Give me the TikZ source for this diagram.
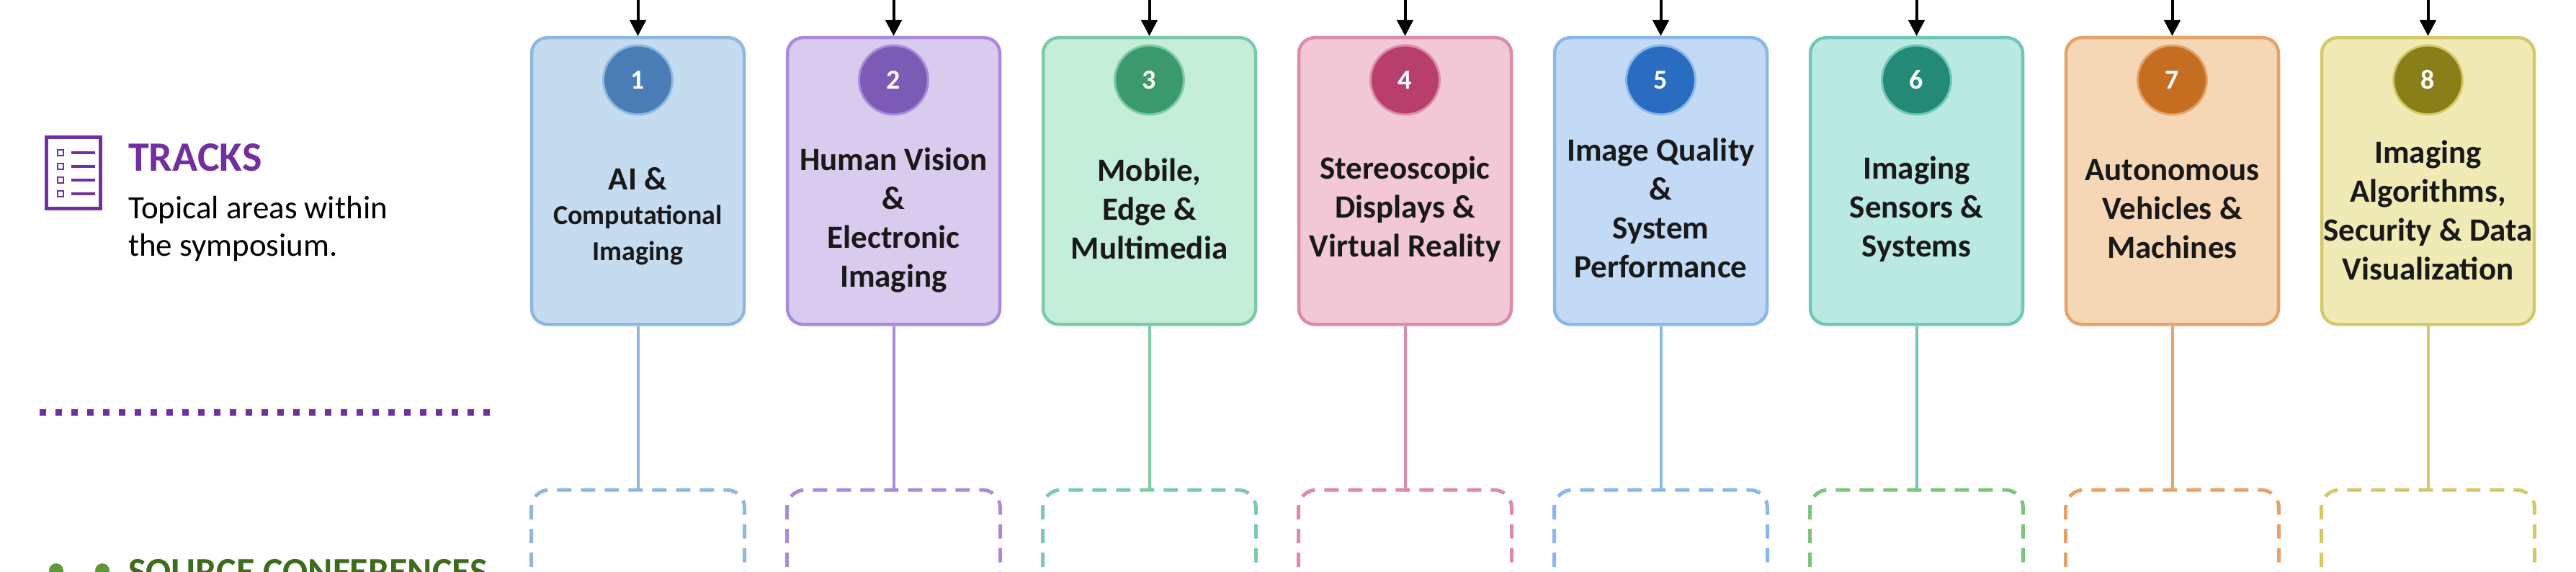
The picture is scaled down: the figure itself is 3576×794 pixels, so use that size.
\documentclass[tikz,border=0pt]{standalone}
\usepackage{fontspec}
\setmainfont{Carlito}
\usetikzlibrary{arrows.meta}
\definecolor{trk}{HTML}{7030A0}
\definecolor{srcg}{HTML}{3E6B1E}
\definecolor{srcd}{HTML}{5E9A3A}
\begin{document}
\begin{tikzpicture}[x=1pt,y=-1pt,
  tbox/.style={draw, line width=4.5pt, rounded corners=22pt, minimum width=295pt, minimum height=398pt, anchor=north},
  num/.style={circle, draw, line width=3pt, minimum size=96pt, inner sep=0pt, text=white, font=\bfseries\fontsize{38}{40}\selectfont},
  lbl/.style={align=center, font=\bfseries\fontsize{45}{54}\selectfont, text=black!90},
  conn/.style={line width=4pt},
  dbox/.style={line width=5pt, dash pattern=on 20pt off 13pt, rounded corners=25pt},
  arr/.style={line width=4pt, -{Triangle[length=22pt,width=22pt]}}]
\useasboundingbox (0,0) rectangle (3576,794);
\clip (0,0) rectangle (3576,794);
% left legend
\draw[trk, line width=5pt] (64,191) rectangle (139,290);
\foreach \yy in {212,231,250,269}{
  \draw[trk, line width=2.5pt] (80,\yy-4) rectangle (88,\yy+4);
  \draw[trk, line width=4.5pt] (99,\yy) -- (132,\yy);
}
\node[anchor=base west, inner sep=0pt, text=trk, font=\bfseries\fontsize{58}{60}\selectfont] (tt) at (178,238) {TRACKS};
\node[anchor=base west, inner sep=0pt, font=\fontsize{45}{51}\selectfont] (td1) at (178,304) {Topical areas within};
\node[anchor=base west, inner sep=0pt, font=\fontsize{45}{51}\selectfont] (td2) at (178,355) {the symposium.};
\draw[trk, line width=9pt, dash pattern=on 9pt off 13pt] (55,572) -- (688,572);
\fill[srcd] (78,792) circle (10);
\fill[srcd] (142,792) circle (10);
\node[anchor=base west, inner sep=0pt, text=srcg, font=\bfseries\fontsize{52}{56}\selectfont] (sc) at (178,810) {SOURCE CONFERENCES};
% tracks
\foreach \i/\fc/\bc/\cc/\dc/\ty/\txt in {
 1/C5DBEF/8FB8DE/4A7DB5/8FB8DE/300/{AI \&\\[-6pt]{\fontsize{38}{46}\selectfont Computational}\\[-4pt]{\fontsize{38}{46}\selectfont Imaging}},
 2/D9CBEE/A98BDB/7B5BB5/A98BDB/306/{Human Vision\\\&\\Electronic\\Imaging},
 3/C4EDDA/7DCBA6/3A9A6E/7DCBA6/290/{Mobile,\\Edge \&\\Multimedia},
 4/F2C8D6/DC8CA8/B83E6C/DC8CA8/290/{Stereoscopic\\Displays \&\\Virtual Reality},
 5/C2DAF5/8AB8EA/2A6CC0/8AB8EA/289/{Image Quality\\\&\\System\\Performance},
 6/B9E9E1/6FC8B8/238A78/7DC47D/290/{Imaging\\Sensors \&\\Systems},
 7/F5D7B6/E5A36A/C56E22/E5A36A/290/{Autonomous\\Vehicles \&\\Machines},
 8/F0EBB5/D4C96A/8A7E18/D4C96A/292/{Imaging\\Algorithms,\\Security \& Data\\Visualization}}{
  \pgfmathsetmacro{\cx}{885.5+(\i-1)*355}
  \definecolor{f\i}{HTML}{\fc}\definecolor{b\i}{HTML}{\bc}\definecolor{c\i}{HTML}{\cc}\definecolor{d\i}{HTML}{\dc}
  \node[tbox, draw=b\i, fill=f\i] (box\i) at (\cx,50) {};
  \node[num, fill=c\i, draw=b\i] (n\i) at (\cx,111) {\i};
  \node[lbl] (l\i) at (\cx,\ty) {\txt};
  \coordinate (top\i) at (\cx,0);
  \coordinate (src\i) at (\cx,680);
  \draw[arr] (top\i) -- (box\i.north);
  \draw[conn, draw=b\i] (box\i.south) -- (src\i);
  \draw[dbox, draw=d\i] (\cx-148,820) -- (\cx-148,680) -- (\cx+148,680) -- (\cx+148,820);
}
\end{tikzpicture}
\end{document}
